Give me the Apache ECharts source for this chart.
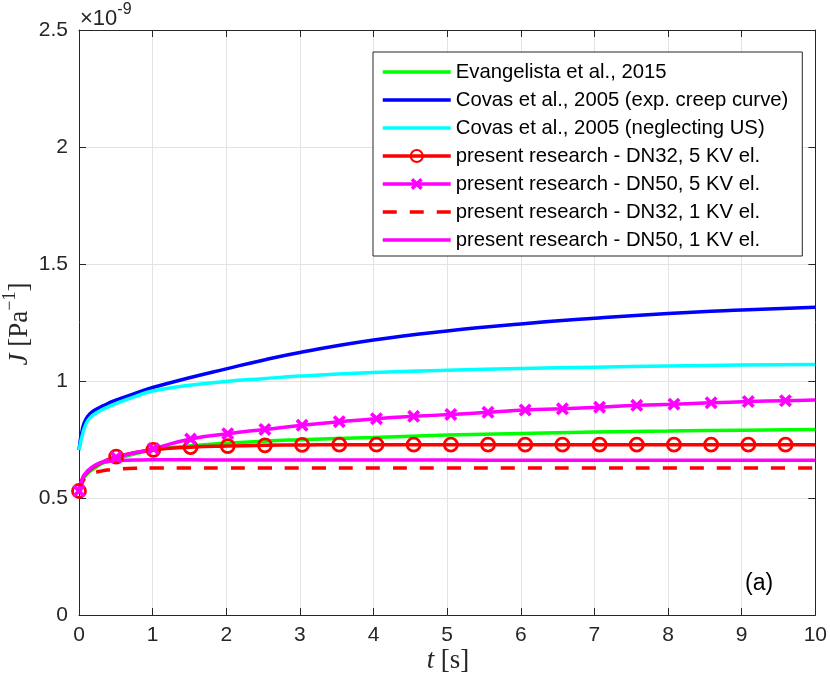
<!DOCTYPE html>
<html>
<head>
<meta charset="utf-8">
<script src="https://cdn.jsdelivr.net/npm/echarts@6/dist/echarts.min.js"></script>
<style>html,body{margin:0;padding:0;background:#fff}#c{width:830px;height:685px}</style>
</head>
<body>
<div id="c"></div>
<script>
// values of J in units of 1e-9 Pa^-1
var xTicks = [0,1,2,3,4,5,6,7,8,9,10];
var yTicks = [0,0.5,1,1.5,2,2.5];

var tCurve = [0,0.05,0.1,0.15,0.2,0.3,0.4,0.5,0.75,1,1.5,2,2.5,3,4,5,6,7,8,9,10];
var evangelista = [0.53,0.575,0.600,0.615,0.625,0.645,0.658,0.667,0.688,0.705,0.722,0.734,0.743,0.749,0.759,0.769,0.776,0.782,0.786,0.790,0.793];
var covasExp    = [0.705,0.800,0.840,0.860,0.873,0.890,0.905,0.918,0.946,0.972,1.014,1.052,1.089,1.122,1.175,1.214,1.244,1.268,1.288,1.303,1.315];
var covasNoUS   = [0.705,0.775,0.820,0.842,0.856,0.875,0.890,0.903,0.932,0.957,0.982,0.998,1.010,1.021,1.036,1.046,1.053,1.059,1.064,1.068,1.071];
var dn32_1kv    = [0.53,0.570,0.590,0.600,0.607,0.615,0.620,0.623,0.627,0.628,0.628,0.628,0.628,0.628,0.628,0.628,0.628,0.628,0.628,0.628,0.628];
var dn50_1kv    = [0.53,0.585,0.610,0.625,0.636,0.650,0.656,0.660,0.662,0.663,0.663,0.662,0.662,0.662,0.662,0.662,0.661,0.661,0.661,0.661,0.661];

var tMarker  = [0,0.505,1.01,1.515,2.02,2.525,3.03,3.535,4.04,4.545,5.05,5.555,6.06,6.565,7.07,7.575,8.08,8.585,9.09,9.595];
var dn32_5kv = [0.53,0.677,0.706,0.717,0.722,0.725,0.727,0.728,0.728,0.728,0.728,0.728,0.728,0.728,0.728,0.728,0.728,0.728,0.728,0.728];
var dn50_5kv = [0.53,0.674,0.711,0.752,0.775,0.793,0.811,0.826,0.839,0.849,0.857,0.866,0.876,0.881,0.888,0.896,0.901,0.907,0.912,0.916];
var tExtra = [0.05,0.1,0.2,0.3,10];
var dn32_5kv_extra = [0.585,0.605,0.632,0.650,0.728];
var dn50_5kv_extra = [0.585,0.607,0.636,0.652,0.919];

var names = ['Evangelista et al., 2015','Covas et al., 2005 (exp. creep curve)','Covas et al., 2005 (neglecting US)',
  'present research - DN32, 5 KV el.','present research - DN50, 5 KV el.','present research - DN32, 1 KV el.','present research - DN50, 1 KV el.'];
var hasMarker = [false,false,false,true,true,false,false];

function pairs(t, v){ return t.map(function(x,i){ return [x, v[i]]; }); }
function withMarkers(tm, vm, te, ve){
  var d = tm.map(function(x,i){ return {value:[x, vm[i]]}; });
  te.forEach(function(x,i){ d.push({value:[x, ve[i]], symbol:'none'}); });
  d.sort(function(a,b){ return a.value[0]-b.value[0]; });
  return d;
}

var AX = '#262626';
var lw = 3.5;
var crossPath = 'path://M0,2 L2,0 L5,3 L8,0 L10,2 L7,5 L10,8 L8,10 L5,7 L2,10 L0,8 L3,5 Z';

function lineSeries(name, color, data, extra){
  var s = {name:name, type:'line', data:data, smooth:0.5, symbol:'none', color:color,
    lineStyle:{color:color, width:lw}, emphasis:{disabled:true}, z:2};
  for (var k in extra) s[k] = extra[k];
  return s;
}

var option = {
  animation:false,
  grid:{left:79, right:11, top:30, bottom:70, containLabel:false},
  xAxis:[{type:'value', min:0, max:10, interval:1, position:'bottom',
      axisLine:{show:true, onZero:false, lineStyle:{color:AX, width:1}},
      axisTick:{show:true, inside:true, length:7, lineStyle:{color:AX}},
      axisLabel:{color:'#262626', fontSize:21, fontFamily:'Liberation Sans', margin:10},
      splitLine:{show:true, lineStyle:{color:'#e3e3e3', width:1}}},
    {type:'value', min:0, max:10, interval:1, position:'top',
      axisLine:{show:true, onZero:false, lineStyle:{color:AX, width:1}},
      axisTick:{show:true, inside:true, length:7, lineStyle:{color:AX}},
      axisLabel:{show:false}, splitLine:{show:false}}],
  yAxis:[{type:'value', min:0, max:2.5, interval:0.5, position:'left',
      axisLine:{show:true, onZero:false, lineStyle:{color:AX, width:1}},
      axisTick:{show:true, inside:true, length:7, lineStyle:{color:AX}},
      axisLabel:{color:'#262626', fontSize:21, fontFamily:'Liberation Sans', margin:11,
        formatter:function(v){ return String(v); }},
      splitLine:{show:true, lineStyle:{color:'#e3e3e3', width:1}}},
    {type:'value', min:0, max:2.5, interval:0.5, position:'right',
      axisLine:{show:true, onZero:false, lineStyle:{color:AX, width:1}},
      axisTick:{show:true, inside:true, length:7, lineStyle:{color:AX}},
      axisLabel:{show:false}, splitLine:{show:false}}],
  legend:{orient:'vertical', left:373, top:52, itemWidth:68, itemHeight:15, itemGap:6,
    padding:[9,14,5,8], backgroundColor:'#fff', borderColor:AX, borderWidth:1,
    lineStyle:{width:3.5},
    textStyle:{fontSize:20.3, fontFamily:'Liberation Sans', color:'#000', lineHeight:22},
    data:names.map(function(n,i){ return hasMarker[i] ? {name:n} : {name:n, itemStyle:{opacity:0}}; }),
    selectedMode:false},
  graphic:[
    {type:'text', x:80, y:2, style:{text:'{a|×10}{b|-9}', rich:{a:{fontSize:22, fontFamily:'Liberation Sans', fill:'#262626', lineHeight:28, verticalAlign:'bottom'}, b:{fontSize:16, fontFamily:'Liberation Sans', fill:'#262626', lineHeight:28, verticalAlign:'top'}}}},
    {type:'text', x:745, y:572, style:{text:'(a)', fontSize:23, fontFamily:'Liberation Sans', fill:'#000'}},
    {type:'text', x:448, y:661, style:{text:'{i|t}  {n|[s]}', align:'center', verticalAlign:'middle',
      rich:{i:{fontSize:27, fontFamily:'Liberation Serif', fontStyle:'italic', fill:'#262626'}, n:{fontSize:27, fontFamily:'Liberation Serif', fill:'#262626'}}}},
    {type:'text', x:17, y:324, rotation:Math.PI/2, style:{text:'{i|J}  {n|[Pa}{s|−1}{n|]}', align:'center', verticalAlign:'middle',
      rich:{i:{fontSize:27, fontFamily:'Liberation Serif', fontStyle:'italic', fill:'#262626', lineHeight:32, verticalAlign:'bottom'},
            n:{fontSize:27, fontFamily:'Liberation Serif', fill:'#262626', lineHeight:32, verticalAlign:'bottom'},
            s:{fontSize:18, fontFamily:'Liberation Serif', fill:'#262626', lineHeight:32, verticalAlign:'top'}}}}
  ],
  series:[
    lineSeries(names[0], '#00ff00', pairs(tCurve, evangelista)),
    lineSeries(names[1], '#0000ff', pairs(tCurve, covasExp)),
    lineSeries(names[2], '#00ffff', pairs(tCurve, covasNoUS)),
    lineSeries(names[3], '#ff0000', withMarkers(tMarker, dn32_5kv, tExtra, dn32_5kv_extra),
      {symbol:'circle', symbolSize:13, showAllSymbol:true, itemStyle:{color:'rgba(255,0,0,0)', borderColor:'#ff0000', borderWidth:2.8}}),
    lineSeries(names[4], '#ff00ff', withMarkers(tMarker, dn50_5kv, tExtra, dn50_5kv_extra),
      {symbol:crossPath, symbolSize:13, showAllSymbol:true, itemStyle:{color:'#ff00ff', borderWidth:0}}),
    lineSeries(names[5], '#ff0000', pairs(tCurve, dn32_1kv), {lineStyle:{color:'#ff0000', width:lw, type:[14,13]}}),
    lineSeries(names[6], '#ff00ff', pairs(tCurve, dn50_1kv))
  ]
};
var chart = echarts.init(document.getElementById('c'), null, {renderer:'canvas'});
chart.setOption(option);
</script>
</body>
</html>
